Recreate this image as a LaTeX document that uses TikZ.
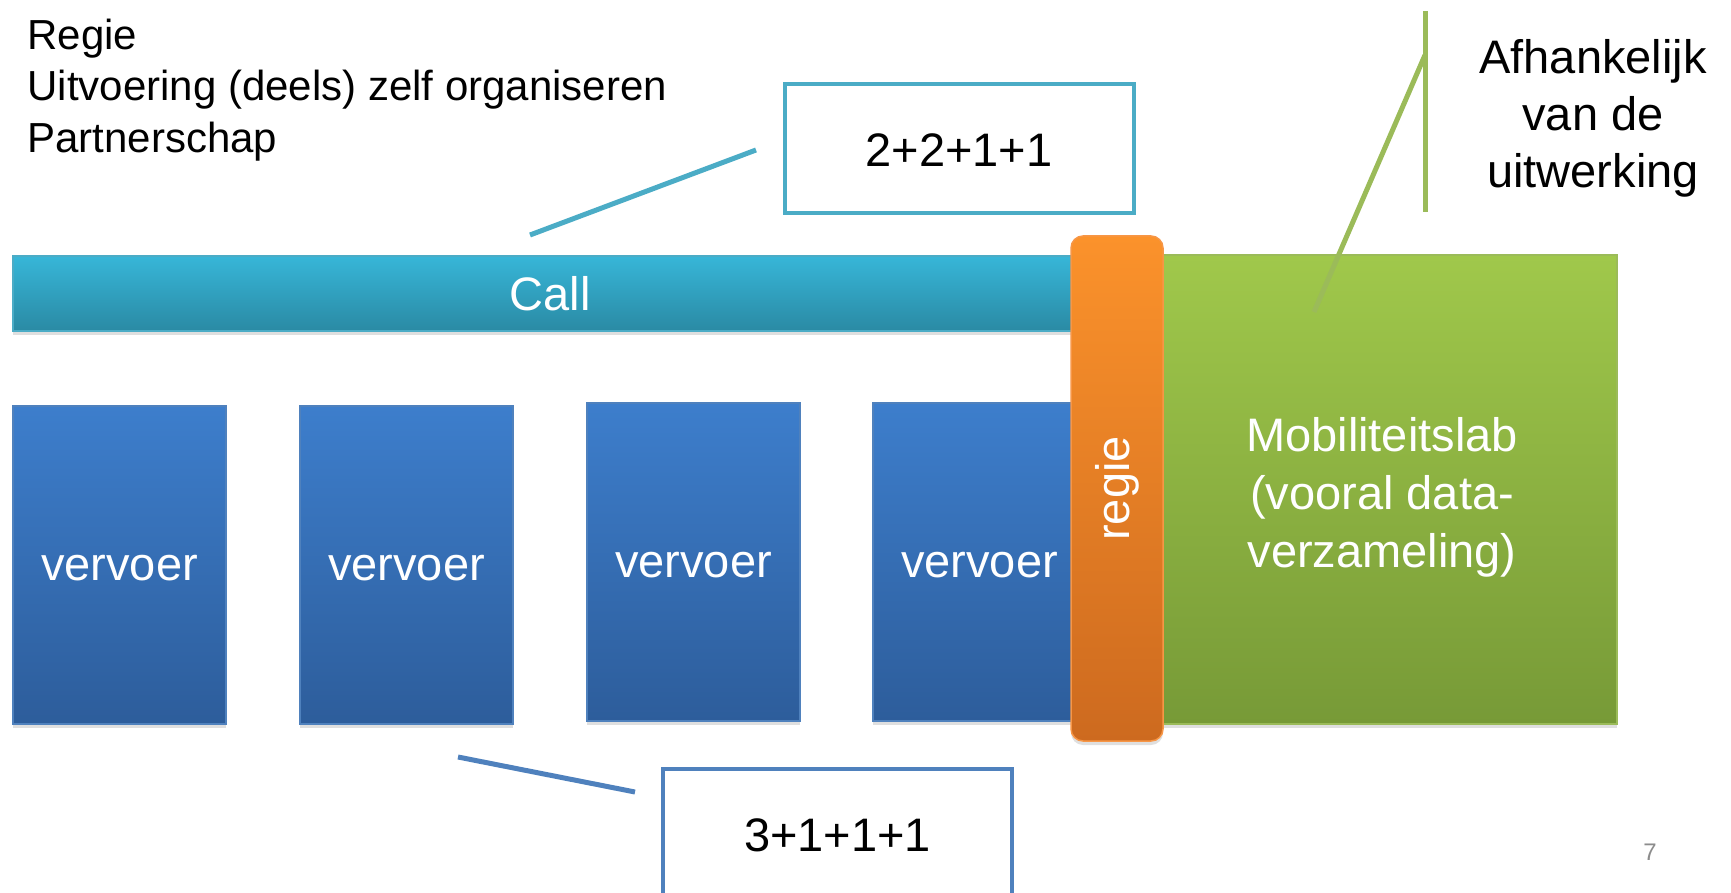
\documentclass[tikz,border=0pt]{standalone}
\usepackage{fontspec}
\setmainfont{Liberation Sans}
\usetikzlibrary{shadows}
\definecolor{calltop}{HTML}{37B6D8}
\definecolor{callbot}{HTML}{2A8AA4}
\definecolor{callteal}{HTML}{4BACC6}
\definecolor{vervtop}{HTML}{3D7ECC}
\definecolor{vervbot}{HTML}{2D5D9B}
\definecolor{steel}{HTML}{4F81BD}
\definecolor{regietop}{HTML}{FB922B}
\definecolor{regiebot}{HTML}{CD6A1F}
\definecolor{regieedge}{HTML}{F79646}
\definecolor{labtop}{HTML}{A0C84B}
\definecolor{labbot}{HTML}{779A37}
\definecolor{olive}{HTML}{9BBB59}
\definecolor{pagegray}{HTML}{8C8C8C}
\newcommand{\slidetxt}{\fontsize{47}{57}\selectfont}

\begin{document}
\begin{tikzpicture}[x=1pt,y=-1pt,
  softshadow/.style={drop shadow={shadow xshift=0pt,shadow yshift=-4pt,opacity=0.25}},
  bar/.style={softshadow,draw=callteal,line width=1.5pt,top color=calltop,bottom color=callbot,
    minimum width=1074pt,minimum height=75pt,inner sep=0pt,text=white,font=\slidetxt},
  vervoerbox/.style={softshadow,draw=steel,line width=1.5pt,top color=vervtop,bottom color=vervbot,
    minimum width=213pt,minimum height=318pt,inner sep=0pt,text height=32pt,text=white,font=\slidetxt},
  callout/.style={draw,fill=white,line width=4pt,minimum width=349pt,minimum height=129pt,font=\slidetxt}]
\useasboundingbox (0,0) rectangle (1731,893);

% call en vervoer
\node[bar] (call) at (550,293.5) {Call};
\node[vervoerbox] (v1) at (119.5,565) {vervoer};
\node[vervoerbox] (v2) at (406.5,565) {vervoer};
\node[vervoerbox] (v3) at (693.5,562) {vervoer};
\node[vervoerbox] (v4) at (979.5,562) {vervoer};

% lab
\node[softshadow,draw=olive,line width=1.5pt,top color=labtop,bottom color=labbot,
  minimum width=462pt,minimum height=469pt,inner sep=0pt] (lab) at (1386,489.5) {};
\node[text=white,font=\fontsize{47}{58}\selectfont,align=center] at (1382,497) {Mobiliteitslab\\(vooral data-\\verzameling)};

\node[softshadow,draw=regieedge,line width=1.5pt,rounded corners=12pt,top color=regietop,bottom color=regiebot,
  minimum width=92pt,minimum height=505pt,inner sep=0pt] (regie) at (1117,488.5) {};
\node[rotate=90,text=white,font=\slidetxt] at (regie.center) {regie};

% tekst
\node[anchor=west,align=left,font=\fontsize{42}{51.5}\selectfont] (lijst) at (24,90)
  {Regie\\Uitvoering (deels) zelf organiseren\\Partnerschap};
\node[align=center,font=\slidetxt] (afh) at (1593,118) {Afhankelijk\\van de\\uitwerking};
\node[text=pagegray,font=\fontsize{24}{28}\selectfont] (page) at (1650,852) {7};

% callouts
\node[callout,draw=callteal,text height=36pt] (som1) at (959,148.5) {2+2+1+1};
\node[callout,draw=steel,text height=36pt] (som2) at (837.5,833.5) {3+1+1+1};
\coordinate (p1) at (530,235);
\coordinate (q1) at (756,150);
\coordinate (p2) at (458,757);
\coordinate (q2) at (635,792);
\draw[callteal,line width=5pt] (p1)--(q1);
\draw[steel,line width=5pt] (p2)--(q2);

\coordinate (g1) at (1425,11);
\coordinate (g2) at (1425,212);
\coordinate (g3) at (1425,55);
\coordinate (g4) at (1314,312);
\draw[olive,line width=5pt] (g1)--(g2);
\draw[olive,line width=5pt] (g3)--(g4);

\end{tikzpicture}
\end{document}
